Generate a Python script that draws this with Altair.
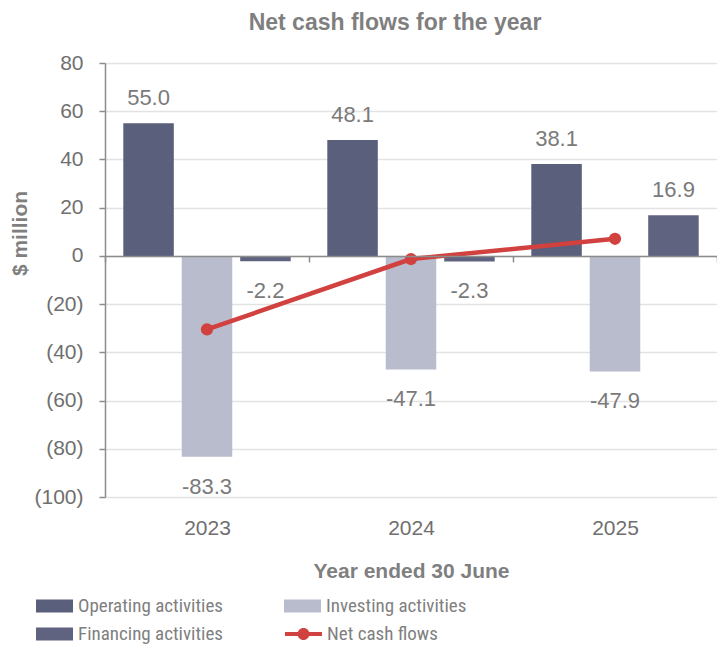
import altair as alt
import pandas as pd

years = ["2023", "2024", "2025"]
operating = [55.0, 48.1, 38.1]
investing = [-83.3, -47.1, -47.9]
financing = [-2.2, -2.3, 16.9]
net_cash = [-30.5, -1.3, 7.1]

bar_names = ["Operating activities", "Investing activities", "Financing activities"]
bar_colors = ["#5a5f7c", "#b9bccd", "#5f6380"]
net_name = "Net cash flows"
net_color = "#d0413f"
y_ticks = [-100, -80, -60, -40, -20, 0, 20, 40, 60, 80]

rows = []
for name, vals in zip(bar_names, [operating, investing, financing]):
    for yr, v in zip(years, vals):
        rows.append({"year": yr, "series": name, "value": v})
bars_df = pd.DataFrame(rows)
net_df = pd.DataFrame({"year": years, "series": net_name, "value": net_cash})

FONT = "Liberation Sans"
NARROW = "Liberation Sans Narrow, Roboto Condensed, Liberation Sans"
W, H = 612, 434
zero_px = H * 80 / 180

x_enc = alt.X(
    "year:N",
    scale=alt.Scale(paddingInner=0, paddingOuter=0),
    axis=alt.Axis(
        title="Year ended 30 June", orient="bottom", offset=-(H - zero_px),
        domain=True, domainColor="#8c8c8c", domainWidth=1.5,
        ticks=True, tickSize=6, tickColor="#8c8c8c", tickWidth=1.5,
        tickBand="extent", labelPadding=256, labelAngle=0,
        labelFontSize=21, labelColor="#6f6f6f", labelFont=FONT, grid=False,
        titleFontSize=21, titleFontWeight="bold", titleColor="#7f7f7f",
        titleFont=FONT, titleY=316, titleBaseline="middle", zindex=1,
    ),
)
xoff_enc = alt.XOffset(
    "series:N",
    scale=alt.Scale(domain=bar_names, paddingInner=0.136, paddingOuter=0.313),
)
y_enc = alt.Y(
    "value:Q",
    scale=alt.Scale(domain=[-100, 80], nice=False, zero=False),
    axis=alt.Axis(
        title="$ million", values=y_ticks,
        labelExpr="datum.value < 0 ? '(' + abs(datum.value) + ')' : datum.value + '\u00a0'",
        labelFontSize=21, labelColor="#6f6f6f", labelFont=FONT, labelPadding=16,
        domain=True, domainColor="#8c8c8c", domainWidth=1.5,
        tickSize=6, tickColor="#8c8c8c", tickWidth=1.5,
        grid=True, gridColor="#e3e3e3", gridWidth=1.5,
        titleFontSize=21, titleFontWeight="bold", titleColor="#7f7f7f",
        titleFont=FONT, titleX=-85, titleY=170, titleAngle=270,
        titleAlign="center", titleBaseline="middle",
    ),
)

bar_path = "M-1.85,-0.65H1.85V0.65H-1.85Z"
line_path = ("M-1.85,-0.2H-0.45V0.2H-1.85Z M0.45,-0.2H1.85V0.2H0.45Z "
             "M0.6,0A0.6,0.6,0,1,1,-0.6,0A0.6,0.6,0,1,1,0.6,0Z")

legend_common = dict(
    title=None, orient="none", symbolSize=400, labelOffset=13.5,
    labelFontSize=19, labelColor="#7f7f7f", labelFont=NARROW,
    labelLimit=400, padding=0, symbolStrokeWidth=0,
)

color_enc = alt.Color(
    "series:N",
    scale=alt.Scale(domain=bar_names, range=bar_colors),
    legend=alt.Legend(
        legendX=-60.5, legendY=533, columns=2, columnPadding=60,
        rowPadding=8, gridAlign="each", direction="horizontal",
        symbolType=bar_path, **legend_common
    ),
)
fill_enc = alt.Fill(
    "series:N",
    scale=alt.Scale(domain=[net_name], range=[net_color]),
    legend=alt.Legend(
        legendX=188.5, legendY=561, symbolType=line_path, **legend_common
    ),
)

label_expr = "(datum.value < 0 ? '-' : '') + format(abs(datum.value), '.1f')"

bars = alt.Chart(bars_df).mark_bar().encode(
    x=x_enc, xOffset=xoff_enc, y=y_enc, color=color_enc
)

text_common = dict(fontSize=22, color="#7a7a7a", font=FONT, baseline="middle")
pos_text = alt.Chart(bars_df).transform_filter("datum.value >= 0").transform_calculate(
    label=label_expr
).mark_text(dy=-25, **text_common).encode(
    x=x_enc, xOffset=xoff_enc, y=y_enc, text="label:N"
)
neg_text = alt.Chart(bars_df).transform_filter("datum.value < 0").transform_calculate(
    label=label_expr
).mark_text(dy=30, **text_common).encode(
    x=x_enc, xOffset=xoff_enc, y=y_enc, text="label:N"
)

line = alt.Chart(net_df).mark_line(strokeWidth=4.5, color=net_color).encode(
    x=x_enc, y=y_enc
)
points = alt.Chart(net_df).mark_circle(size=150, opacity=1).encode(
    x=x_enc, y=y_enc, fill=fill_enc
)

chart = alt.layer(bars, pos_text, neg_text, line, points).properties(
    width=W, height=H,
    autosize=alt.AutoSizeParams(type="none"),
    padding={"left": 97, "top": 55, "right": 0, "bottom": 152},
    title=alt.TitleParams(
        "Net cash flows for the year", fontSize=23, fontWeight="bold",
        color="#7f7f7f", font=FONT, anchor="middle", frame="group",
        dx=-16, offset=17,
    ),
).configure_view(strokeWidth=0)

chart.save("out.html", embed_options={"renderer": "svg", "actions": False})
